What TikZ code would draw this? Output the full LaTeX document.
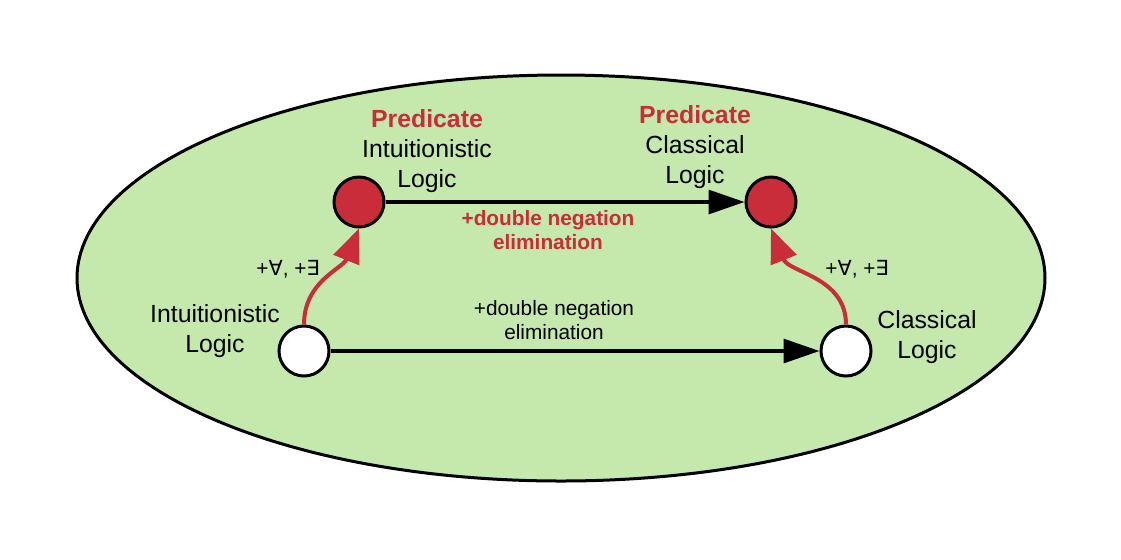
\documentclass[tikz,border=0pt]{standalone}
\usepackage{fontspec}
\setmainfont{Liberation Sans}
\newfontfamily\symfont{DejaVu Sans}
\usetikzlibrary{arrows.meta,shapes.geometric}
\definecolor{bggreen}{RGB}{197,232,173}
\definecolor{predred}{RGB}{201,45,57}
\tikzset{
  logicdot/.style={circle,draw=black,line width=1.5pt,minimum size=25pt,inner sep=0pt},
  bigtext/.style={align=center,font=\fontsize{12.4pt}{15pt}\selectfont,inner sep=0pt},
  smalltext/.style={align=center,font=\fontsize{10.4pt}{12pt}\selectfont,inner sep=0pt},
  redtext/.style={smalltext,text=predred,font=\fontsize{10.4pt}{12pt}\selectfont\bfseries},
  blackarrow/.style={line width=1.6pt,-{Triangle[length=18pt,width=12pt]}},
  redarrow/.style={line width=2pt,draw=predred,-{Triangle[length=17pt,width=13.5pt]},color=predred},
}
\begin{document}
\begin{tikzpicture}[x=0.5pt,y=-0.5pt]
\useasboundingbox (0,0) rectangle (1121,559);
\node[ellipse,draw=black,fill=bggreen,line width=1.5pt,minimum width=484pt,minimum height=203pt,inner sep=0pt] (world) at (561,278) {};
\node[logicdot,fill=predred] (pil) at (359,202) {};
\node[logicdot,fill=predred] (pcl) at (771,202) {};
\node[logicdot,fill=white] (il) at (304,351) {};
\node[logicdot,fill=white] (cl) at (846,351) {};
\draw[blackarrow] (pil) -- (pcl);
\draw[blackarrow] (il) -- (cl);
\draw[redarrow] (il.north) to[out=90,in=-112,looseness=1] (pil.south);
\draw[redarrow] (cl.north) to[out=90,in=-68,looseness=1] (pcl.south);
\node[bigtext] (pilt) at (427,151) {{\color{predred}\bfseries Predicate}\\Intuitionistic\\Logic};
\node[bigtext] (pclt) at (695,147) {{\color{predred}\bfseries Predicate}\\Classical\\Logic};
\node[bigtext] (ilt) at (215,331) {Intuitionistic\\Logic};
\node[bigtext] (clt) at (927,337) {Classical\\Logic};
\node[redtext] (dnp) at (548,230) {+double negation\\elimination};
\node[smalltext] (dn) at (554,320) {+double negation\\elimination};
\node[smalltext] (ql) at (288,269) {+{\symfont ∀}, +{\symfont ∃}};
\node[smalltext] (qr) at (857,269) {+{\symfont ∀}, +{\symfont ∃}};
\end{tikzpicture}
\end{document}
